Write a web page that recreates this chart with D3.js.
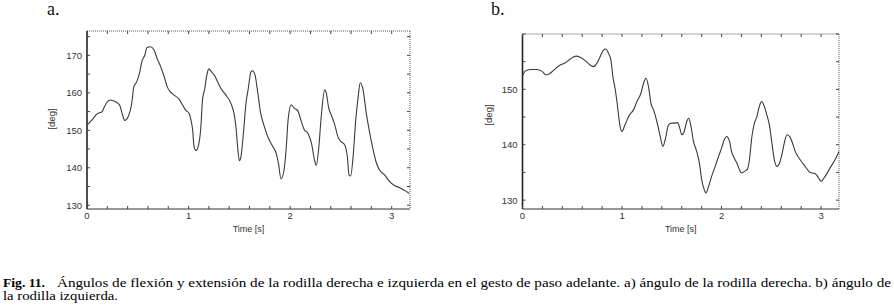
<!DOCTYPE html>
<html><head><meta charset="utf-8">
<script src="https://cdn.jsdelivr.net/npm/d3@7"></script>
<style>body{margin:0;background:#fff}svg{display:block}</style>
</head><body>
<svg id="c" width="894" height="307"></svg>
<script>
// Panel a: right knee angle (time [s], degrees)
const timeA = [0,0.05,0.10,0.15,0.165,0.20,0.23,0.28,0.32,0.36,0.37,0.405,0.445,0.46,0.49,0.52,0.54,0.57,0.59,0.626,0.66,0.69,0.725,0.76,0.79,0.82,0.857,0.906,0.94,0.97,1.005,1.02,1.04,1.054,1.074,1.094,1.12,1.137,1.16,1.18,1.20,1.226,1.252,1.285,1.318,1.367,1.417,1.45,1.466,1.483,1.50,1.516,1.54,1.565,1.588,1.614,1.63,1.654,1.68,1.707,1.746,1.78,1.83,1.862,1.885,1.91,1.94,1.96,1.98,2.01,2.04,2.076,2.11,2.14,2.175,2.21,2.24,2.257,2.28,2.306,2.34,2.356,2.38,2.405,2.44,2.47,2.50,2.537,2.563,2.58,2.596,2.62,2.646,2.67,2.69,2.718,2.75,2.784,2.817,2.85,2.88,2.93,2.98,3.03,3.08,3.13,3.17];
const angleA = [151.4,152.8,154.4,155.0,155.9,157.6,158.1,157.6,156.8,153.2,152.6,153.6,158.1,161.5,163.0,165.6,168.3,170.1,172.1,172.3,171.4,169.2,167.0,164.3,161.6,160.3,159.4,158.3,156.8,155.4,154.5,153.2,150.1,145.6,144.6,145.6,150.5,158.1,161.2,164.8,166.4,165.6,164.8,163.0,161.2,159.4,157.2,154.1,151.0,145.6,141.9,143.0,149.2,157.2,161.2,165.6,165.9,164.8,160.3,155.0,151.0,148.3,145.6,143.9,141.2,137.0,139.4,144.8,152.8,156.8,155.9,155.2,152.3,150.1,149.2,146.5,142.1,140.6,144.8,153.6,160.8,159.9,155.9,154.1,151.4,148.3,147.0,146.1,143.0,138.1,137.8,143.0,152.8,159.0,162.7,160.8,154.5,149.2,144.8,141.2,139.4,138.1,136.3,135.2,134.7,133.9,133.2];

// Panel b: left knee angle
const timeB = [0,0.027,0.077,0.144,0.194,0.238,0.278,0.328,0.378,0.43,0.48,0.54,0.58,0.63,0.68,0.713,0.747,0.78,0.814,0.837,0.864,0.888,0.908,0.93,0.955,0.975,0.998,1.03,1.075,1.115,1.15,1.19,1.216,1.24,1.266,1.29,1.317,1.35,1.384,1.41,1.434,1.467,1.50,1.534,1.56,1.58,1.60,1.625,1.65,1.67,1.69,1.718,1.75,1.78,1.80,1.826,1.843,1.87,1.90,1.936,1.97,2.00,2.027,2.05,2.08,2.10,2.127,2.154,2.18,2.20,2.23,2.26,2.28,2.305,2.33,2.355,2.37,2.39,2.404,2.43,2.455,2.48,2.506,2.53,2.556,2.583,2.606,2.63,2.657,2.683,2.707,2.74,2.79,2.84,2.89,2.94,2.975,3.00,3.04,3.09,3.14,3.18];
const angleB = [152.4,153.3,153.6,153.6,153.3,152.6,152.9,153.7,154.4,154.8,155.5,156.0,155.8,155.2,154.4,154.1,154.7,155.9,157.1,157.3,156.5,155.3,152.3,150.2,146.9,143.9,142.4,143.6,145.4,146.3,147.8,149.3,151.1,152.0,150.5,147.5,146.3,144.2,141.5,139.7,140.9,143.6,143.9,143.9,144.0,143.0,141.8,142.4,144.2,144.8,143.6,140.6,138.8,136.4,133.7,131.9,131.3,132.5,134.3,136.1,137.9,139.4,140.9,141.5,140.6,138.8,137.6,136.7,135.5,134.9,135.2,135.6,137.3,141.5,143.9,145.1,146.3,147.5,147.8,146.9,145.4,143.6,140.3,137.3,136.1,136.7,138.2,140.3,141.8,141.5,140.6,138.8,137.3,136.1,135.0,134.8,134.0,133.4,134.3,135.8,137.3,138.8];

const xTickLabels = [0,1,2,3];
const yTickLabelsA = [130,140,150,160,170];
const yTickLabelsB = [130,140,150];
const panelLabels = ["a.","b."];
const xTitle = "Time [s]";
const yTitle = "[deg]";
const captionBold = "Fig. 11.";
const captionLine1 = "\u00C1ngulos de flexi\u00F3n y extensi\u00F3n de la rodilla derecha e izquierda en el gesto de paso adelante. a) \u00E1ngulo de la rodilla derecha. b) \u00E1ngulo de";
const captionLine2 = "la rodilla izquierda.";

const SANS = "'Liberation Sans'";
const SERIF = "'Liberation Serif'";
const svg = d3.select("#c");

function panel(opt){
  const g = svg.append("g");
  const x = d3.scaleLinear().domain([0,3.18]).range([opt.x0,opt.x1]);
  const y = d3.scaleLinear().domain(opt.yDomain).range([opt.y1,opt.y0]);
  // box
  g.append("line").attr("x1",opt.x0).attr("x2",opt.x1).attr("y1",opt.y0).attr("y2",opt.y0)
    .attr("stroke","#555").attr("stroke-dasharray","1,1");
  g.append("line").attr("x1",opt.x1).attr("x2",opt.x1).attr("y1",opt.y0).attr("y2",opt.y1)
    .attr("stroke","#555").attr("stroke-dasharray","1,1");
  g.append("line").attr("x1",opt.x0).attr("x2",opt.x1).attr("y1",opt.y1).attr("y2",opt.y1)
    .attr("stroke","#333");
  g.append("line").attr("x1",opt.x0).attr("x2",opt.x0).attr("y1",opt.y0).attr("y2",opt.y1)
    .attr("stroke","#222").attr("stroke-width",1.6);
  // minor ticks
  const xt = d3.range(0,3.19,0.2);
  const yt = d3.range(Math.ceil(opt.yDomain[0]/5)*5, opt.yDomain[1]+0.01, 5);
  xt.forEach(t=>{
    const px = x(t);
    g.append("line").attr("x1",px).attr("x2",px).attr("y1",opt.y1).attr("y2",opt.y1-3).attr("stroke","#444");
    g.append("line").attr("x1",px).attr("x2",px).attr("y1",opt.y0).attr("y2",opt.y0+3).attr("stroke","#444");
  });
  yt.forEach(v=>{
    const py = y(v);
    g.append("line").attr("x1",opt.x0).attr("x2",opt.x0+3).attr("y1",py).attr("y2",py).attr("stroke","#444");
    g.append("line").attr("x1",opt.x1).attr("x2",opt.x1-3).attr("y1",py).attr("y2",py).attr("stroke","#444");
  });
  // tick labels
  g.selectAll(".xl").data(xTickLabels).enter().append("text")
    .attr("x",d=>x(d)).attr("y",opt.y1+9.5).attr("text-anchor","middle")
    .attr("font-family",SANS).attr("font-size",9.5).attr("fill","#333").text(d=>d);
  g.selectAll(".yl").data(opt.yLabels).enter().append("text")
    .attr("x",opt.x0-5).attr("y",d=>y(d)+3.4).attr("text-anchor","end")
    .attr("font-family",SANS).attr("font-size",9.5).attr("fill","#333").text(d=>d);
  g.append("text").attr("x",(opt.x0+opt.x1)/2).attr("y",232).attr("text-anchor","middle")
    .attr("font-family",SANS).attr("font-size",9).attr("fill","#333").text(xTitle);
  g.append("text").attr("transform",`translate(${opt.yTitleX},${opt.yTitleY}) rotate(-90)`)
    .attr("text-anchor","middle")
    .attr("font-family",SANS).attr("font-size",9.5).attr("fill","#333").text(yTitle);
  // panel label
  g.append("text").attr("x",opt.labelX).attr("y",15)
    .attr("font-family",SERIF).attr("font-size",18).attr("fill","#111").text(opt.label);
  // curve
  const line = d3.line().x(d=>x(d[0])).y(d=>y(d[1])).curve(d3.curveMonotoneX);
  g.append("path").datum(d3.zip(opt.t,opt.v)).attr("d",line)
    .attr("fill","none").attr("stroke","#3a3a3a").attr("stroke-width",1.1);
}

panel({x0:87,x1:410,y0:31,y1:209,yDomain:[129,176.5],yLabels:yTickLabelsA,t:timeA,v:angleA,
  label:panelLabels[0],labelX:47,yTitleX:55,yTitleY:119});
panel({x0:522.5,x1:839,y0:34,y1:209,yDomain:[128.4,160],yLabels:yTickLabelsB,t:timeB,v:angleB,
  label:panelLabels[1],labelX:491,yTitleX:492,yTitleY:115});

// caption
svg.append("text").attr("x",3).attr("y",286.5)
  .attr("font-family",SERIF).attr("font-size",12).attr("font-weight","bold").attr("fill","#000")
  .attr("textLength",42).attr("lengthAdjust","spacingAndGlyphs")
  .text(captionBold);
svg.append("text").attr("x",57).attr("y",286.5)
  .attr("font-family",SERIF).attr("font-size",12).attr("fill","#000")
  .attr("textLength",834).attr("lengthAdjust","spacingAndGlyphs")
  .text(captionLine1);
svg.append("text").attr("x",3).attr("y",300)
  .attr("font-family",SERIF).attr("font-size",12).attr("fill","#000")
  .attr("textLength",115).attr("lengthAdjust","spacingAndGlyphs")
  .text(captionLine2);
</script>
</body></html>
